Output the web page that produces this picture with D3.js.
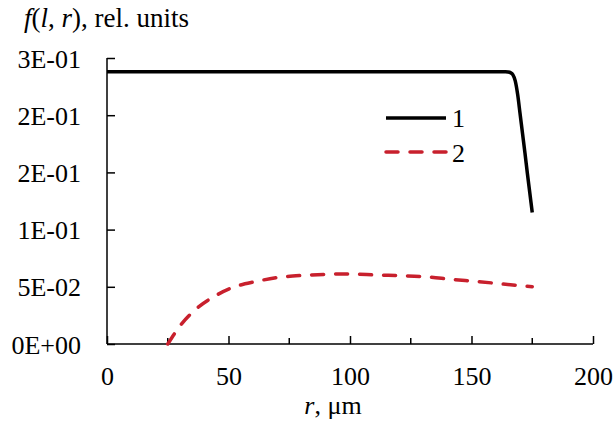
<!DOCTYPE html>
<html>
<head>
<meta charset="utf-8">
<script src="https://cdn.jsdelivr.net/npm/d3@7"></script>
<style>
  body { margin: 0; background: #fff; }
  svg, svg text, svg tspan { font-family: "Liberation Serif", serif; }
</style>
</head>
<body>
<div id="chart"></div>
<script>
const serif = "Liberation Serif";

// curve 1
const r1 = [0, 25, 50, 75, 100, 125, 150, 160, 164, 165, 166, 167, 168, 169, 170, 171, 172, 173, 174, 175];
const f1 = [0.238, 0.238, 0.238, 0.238, 0.238, 0.238, 0.238, 0.238, 0.238, 0.2378, 0.2372, 0.2355, 0.230, 0.218, 0.201, 0.184, 0.167, 0.149, 0.132, 0.115];

// curve 2
const r2 = [25, 30, 37, 44, 52, 61, 71, 81, 90, 100, 111, 121, 131, 142, 153, 163, 175];
const f2 = [0, 0.0157, 0.0312, 0.0414, 0.0496, 0.0545, 0.0583, 0.060, 0.0609, 0.0612, 0.0603, 0.0597, 0.0588, 0.0565, 0.0545, 0.0524, 0.0501];

// axis ticks
const yTicks = [0, 0.05, 0.1, 0.15, 0.2, 0.25];
const yTickLabels = ["0E+00", "5E-02", "1E-01", "2E-01", "2E-01", "3E-01"];
const xMajor = [0, 50, 100, 150, 200];
const xMinor = [25, 75, 125, 175];
const legendNames = ["1", "2"];

const svg = d3.select("#chart")
    .append("svg")
    .attr("width", 615)
    .attr("height", 432)
    .attr("font-family", serif)
    .attr("font-size", 26);

const x = d3.scaleLinear().domain([0, 200]).range([107, 593]);
const y = d3.scaleLinear().domain([0, 0.25]).range([344, 58]);

// y axis, ticks inside
const yAxis = d3.axisRight(y)
    .tickValues(yTicks)
    .tickSize(8)
    .tickFormat((d, i) => yTickLabels[i]);

const gy = svg.append("g")
    .attr("transform", "translate(" + x(0) + ",0)")
    .call(yAxis)
    .attr("font-family", null)
    .attr("font-size", null);
gy.select(".domain").remove();
gy.selectAll("line").attr("stroke", "#000").attr("stroke-width", 1.5);
gy.selectAll("text")
    .attr("x", -26)
    .attr("dy", "0.35em")
    .attr("text-anchor", "end")
    .attr("fill", "#000");

// x axis, ticks inside
const xAxis = d3.axisTop(x)
    .tickValues(xMajor)
    .tickSize(8)
    .tickFormat(d3.format("d"));

const gx = svg.append("g")
    .attr("transform", "translate(0," + y(0) + ")")
    .call(xAxis)
    .attr("font-family", null)
    .attr("font-size", null);
gx.select(".domain").remove();
gx.selectAll("line").attr("stroke", "#000").attr("stroke-width", 1.5);
gx.selectAll("text")
    .attr("y", 41)
    .attr("dy", 0)
    .attr("fill", "#000");

svg.append("g")
    .selectAll("line")
    .data(xMinor)
    .enter()
    .append("line")
    .attr("x1", (d) => x(d))
    .attr("x2", (d) => x(d))
    .attr("y1", y(0))
    .attr("y2", y(0) - 6)
    .attr("stroke", "#000")
    .attr("stroke-width", 1.5);

// axis lines
svg.append("line")
    .attr("x1", x(0)).attr("x2", x(200))
    .attr("y1", y(0)).attr("y2", y(0))
    .attr("stroke", "#000").attr("stroke-width", 1.5);
svg.append("line")
    .attr("x1", x(0)).attr("x2", x(0))
    .attr("y1", y(0)).attr("y2", y(0.25))
    .attr("stroke", "#000").attr("stroke-width", 1.5);

// curves
const line = d3.line()
    .x((d) => x(d[0]))
    .y((d) => y(d[1]))
    .curve(d3.curveMonotoneX);

svg.append("path")
    .datum(d3.zip(r1, f1))
    .attr("d", line)
    .attr("fill", "none")
    .attr("stroke", "#000")
    .attr("stroke-width", 3.5)
    .attr("stroke-linejoin", "round");

svg.append("path")
    .datum(d3.zip(r2, f2))
    .attr("d", line)
    .attr("fill", "none")
    .attr("stroke", "#c8202d")
    .attr("stroke-width", 3.5)
    .attr("stroke-linecap", "round")
    .attr("stroke-dasharray", "12,12");

// legend
const legend = svg.append("g");
legend.selectAll("line")
    .data(legendNames)
    .enter()
    .append("line")
    .attr("x1", 386)
    .attr("x2", 446)
    .attr("y1", (d, i) => 118 + i * 34)
    .attr("y2", (d, i) => 118 + i * 34)
    .attr("stroke", (d, i) => i === 0 ? "#000" : "#c8202d")
    .attr("stroke-width", 3.5)
    .attr("stroke-linecap", (d, i) => i === 0 ? "butt" : "round")
    .attr("stroke-dasharray", (d, i) => i === 0 ? null : "12,12");
legend.selectAll("text")
    .data(legendNames)
    .enter()
    .append("text")
    .attr("x", 452)
    .attr("y", (d, i) => 127 + i * 35)
    .text((d) => d);

// titles
const title = svg.append("text")
    .attr("x", 24)
    .attr("y", 27)
    .attr("font-size", 27);
title.append("tspan").attr("font-style", "italic").text("f");
title.append("tspan").text("(");
title.append("tspan").attr("font-style", "italic").text("l");
title.append("tspan").text(", ");
title.append("tspan").attr("font-style", "italic").text("r");
title.append("tspan").text("), rel. units");

const xTitle = svg.append("text")
    .attr("x", 333)
    .attr("y", 414)
    .attr("text-anchor", "middle");
xTitle.append("tspan").attr("font-style", "italic").text("r");
xTitle.append("tspan").text(", μm");
</script>
</body>
</html>
